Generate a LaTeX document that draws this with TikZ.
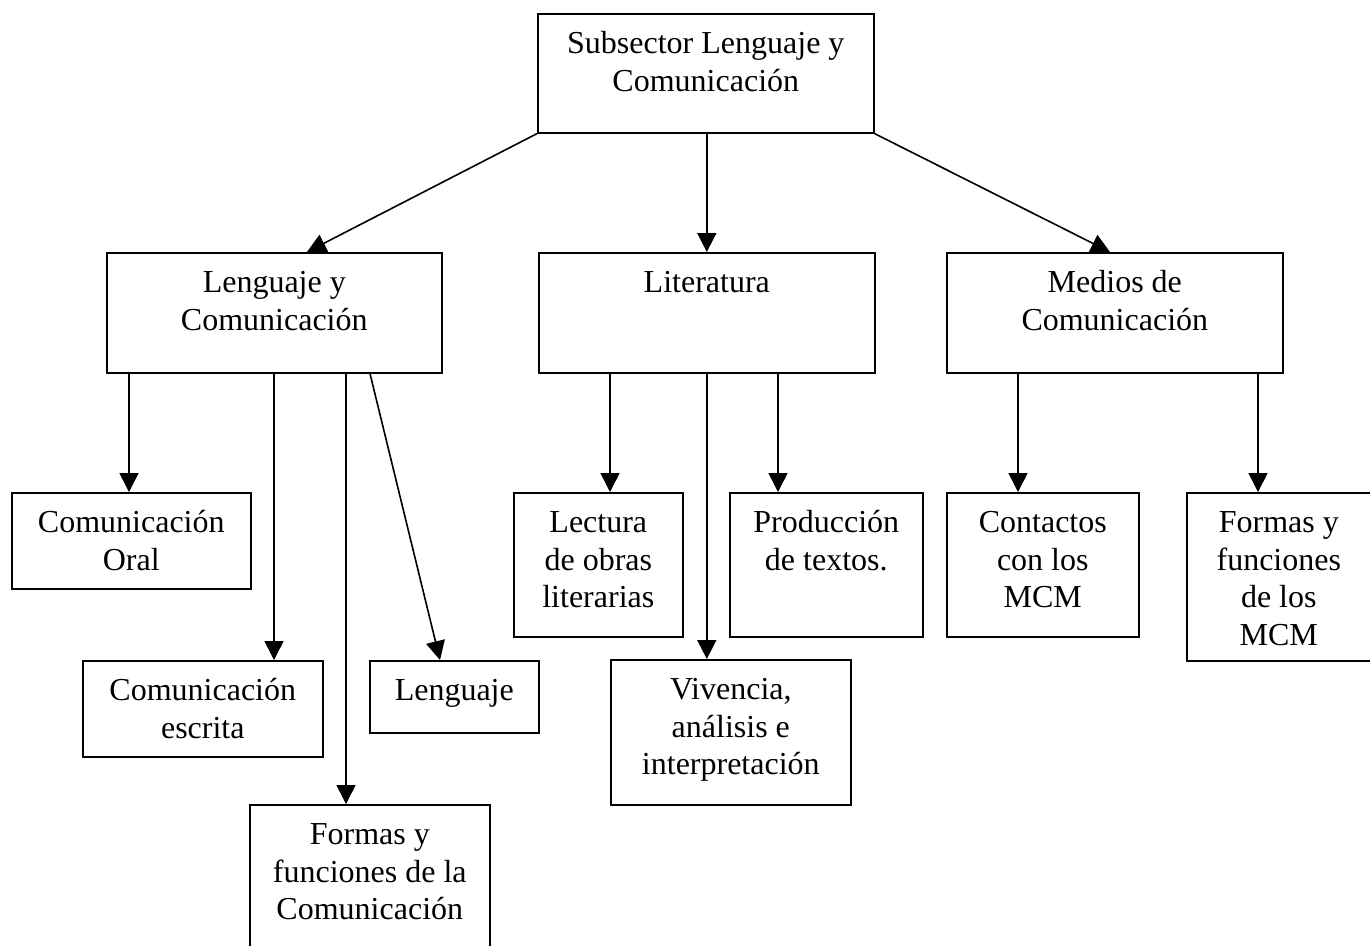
\documentclass[tikz,border=0pt]{standalone}
\usepackage{fontspec}
\setmainfont{Liberation Serif}
\usetikzlibrary{arrows.meta, positioning}
\tikzset{>={Triangle[length=19pt,width=19pt]}}
\newcommand{\cajatxt}[3]{\parbox[c][#2][t]{#1}{\centering\rule{0pt}{40pt}#3\par}}

\begin{document}
\begin{tikzpicture}[x=1pt, y=-1pt, line width=1.6pt, caja/.style={rectangle, draw=black, fill=white, inner sep=0pt, anchor=north west, font=\fontsize{32}{37.5}\selectfont}, flecha/.style={->}]
    \useasboundingbox (0,0) rectangle (1370,945);
    \node[caja] (sub) at (537,13) {\cajatxt{336pt}{119pt}{Subsector Lenguaje y\\ Comunicación}};

    \node[caja] (lyc) at (106,252) {\cajatxt{335pt}{120pt}{Lenguaje y\\ Comunicación}};
    \node[caja] (lit) at (538,252) {\cajatxt{336pt}{120pt}{Literatura}};
    \node[caja] (med) at (946,252) {\cajatxt{336pt}{120pt}{Medios de\\ Comunicación}};

    \node[caja] (oral) at (11,492) {\cajatxt{239pt}{96pt}{Comunicación\\ Oral}};
    \node[caja] (escr) at (82,660) {\cajatxt{240pt}{96pt}{Comunicación\\ escrita}};
    \node[caja] (leng) at (369,660) {\cajatxt{169pt}{72pt}{Lenguaje}};
    \node[caja] (formas) at (249,804) {\cajatxt{240pt}{150pt}{Formas y\\ funciones de la\\ Comunicación}};

    \node[caja] (lect) at (513,492) {\cajatxt{169pt}{144pt}{Lectura\\ de obras\\ literarias}};
    \node[caja] (prod) at (729,492) {\cajatxt{193pt}{144pt}{Producción\\ de textos.}};
    \node[caja] (viv) at (610,659) {\cajatxt{240pt}{145pt}{Vivencia,\\ análisis e\\ interpretación}};

    \node[caja] (cont) at (946,492) {\cajatxt{192pt}{144pt}{Contactos\\ con los\\ MCM}};
    \node[caja] (fmcm) at (1186,492) {\cajatxt{184pt}{168pt}{Formas y\\ funciones\\ de los\\ MCM}};

    % primer nivel
    \draw[flecha] (sub.south west) -- ([xshift=201pt]lyc.north west);
    \draw[flecha] (lit.north |- sub.south) -- (lit.north);
    \draw[flecha] (sub.south east) -- ([xshift=164pt]med.north west);

    % lenguaje y comunicacion
    \draw[flecha] ([xshift=23pt]lyc.south west) -- ([xshift=23pt]lyc.south west |- oral.north);
    \draw[flecha] ([xshift=168pt]lyc.south west) -- ([xshift=168pt]lyc.south west |- escr.north);
    \draw[flecha] ([xshift=240pt]lyc.south west) -- ([xshift=240pt]lyc.south west |- formas.north);
    \draw[flecha] ([xshift=264pt]lyc.south west) -- ([xshift=71pt]leng.north west);

    % literatura
    \draw[flecha] ([xshift=72pt]lit.south west) -- ([xshift=72pt]lit.south west |- lect.north);
    \draw[flecha] (lit.south) -- (lit.south |- viv.north);
    \draw[flecha] ([xshift=240pt]lit.south west) -- ([xshift=240pt]lit.south west |- prod.north);

    % medios
    \draw[flecha] ([xshift=72pt]med.south west) -- ([xshift=72pt]med.south west |- cont.north);
    \draw[flecha] ([xshift=312pt]med.south west) -- ([xshift=312pt]med.south west |- fmcm.north);
\end{tikzpicture}
\end{document}
